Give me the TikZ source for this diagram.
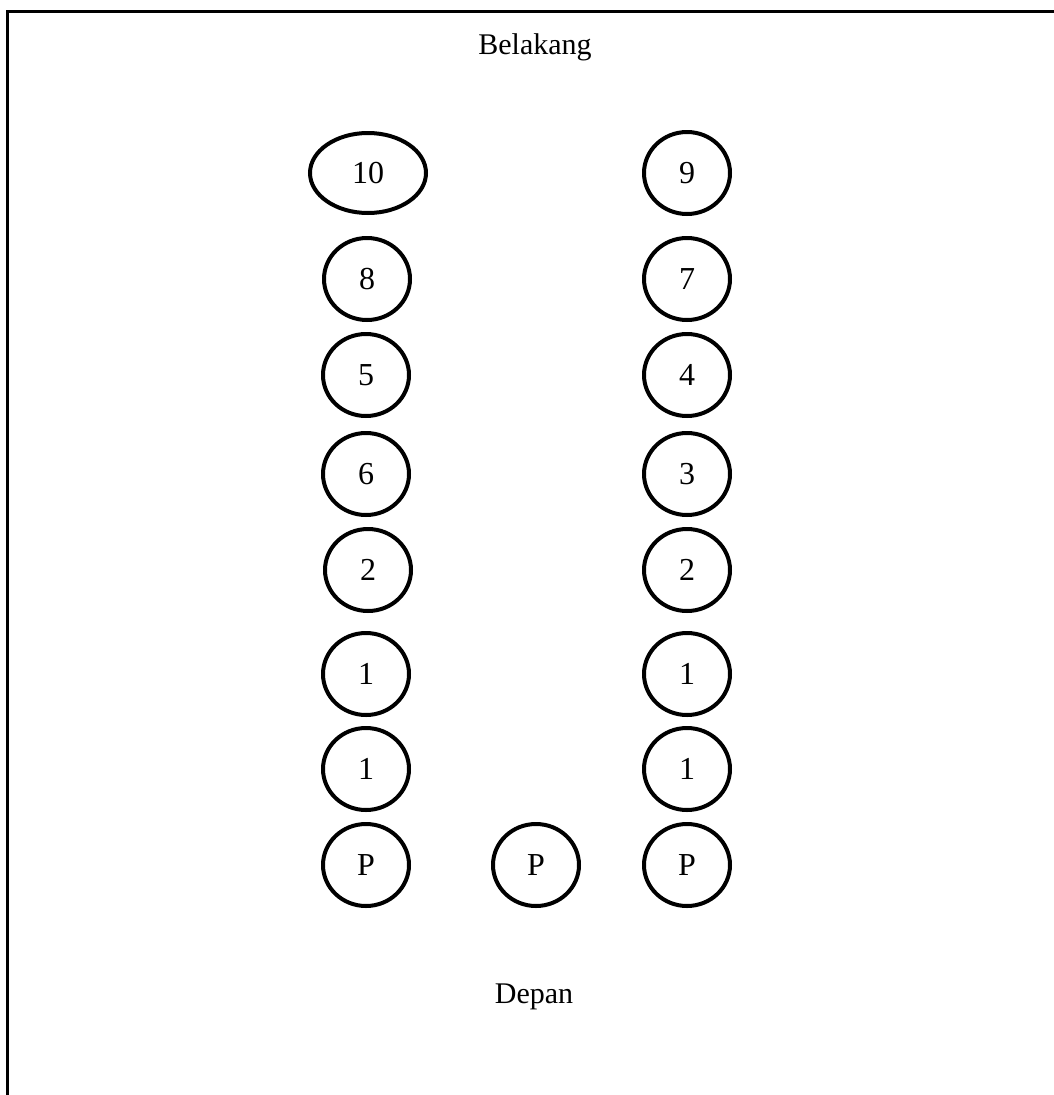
\documentclass[tikz,border=0pt]{standalone}
\usepackage{fontspec}
\setmainfont{Liberation Serif}
\usetikzlibrary{shapes.geometric}
\begin{document}
\begin{tikzpicture}[x=1pt,y=-1pt,
  seat/.style={draw,ellipse,line width=4pt,minimum width=86pt,minimum height=82pt,inner sep=0pt,font=\fontsize{32}{36}\selectfont},
  lbl/.style={font=\fontsize{30}{36}\selectfont,inner sep=0pt}]
\useasboundingbox (0,0) rectangle (1054,1095);
\draw[line width=3pt] (7,1095) -- (7,11) -- (1054,11);
\node[lbl] (bel) at (535,47) {Belakang};
\node[lbl] (dep) at (534,997) {Depan};
\node[seat,minimum width=116pt,minimum height=80pt] (s10) at (368,173) {10};
\node[seat] (s9) at (687,173) {9};
\node[seat] (s8) at (367,279) {8};
\node[seat] (s7) at (687,279) {7};
\node[seat] (s5) at (366,375) {5};
\node[seat] (s4) at (687,375) {4};
\node[seat] (s6) at (366,474) {6};
\node[seat] (s3) at (687,474) {3};
\node[seat] (s2a) at (368,570) {2};
\node[seat] (s2b) at (687,570) {2};
\node[seat] (s1a) at (366,674) {1};
\node[seat] (s1b) at (687,674) {1};
\node[seat] (s1c) at (366,769) {1};
\node[seat] (s1d) at (687,769) {1};
\node[seat] (pa) at (366,865) {P};
\node[seat] (pb) at (536,865) {P};
\node[seat] (pc) at (687,865) {P};
\end{tikzpicture}
\end{document}
